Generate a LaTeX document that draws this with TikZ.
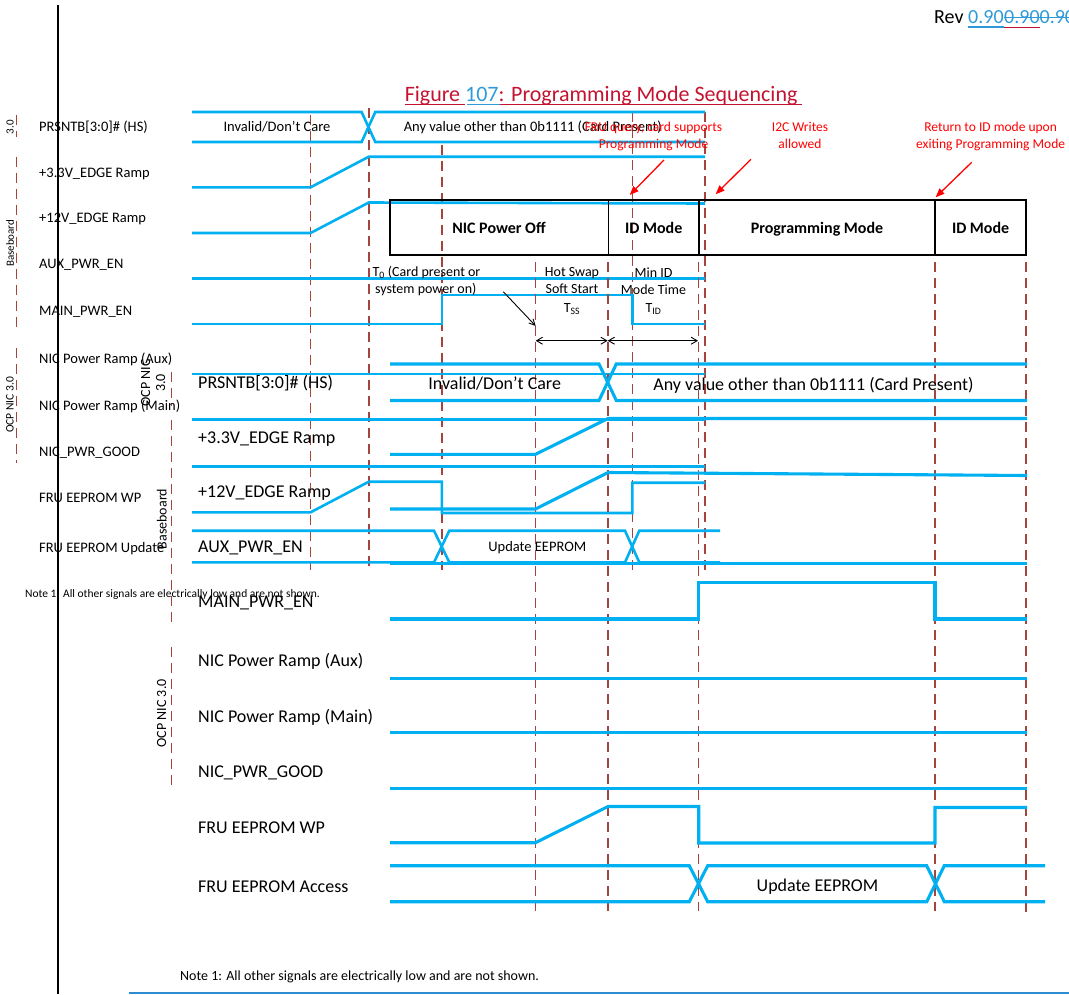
\documentclass[tikz,border=0pt]{standalone}
\usepackage{fontspec}
\setmainfont{Carlito}
\usetikzlibrary{arrows.meta}
\definecolor{sigblue}{RGB}{0,176,240}
\definecolor{dred}{RGB}{165,68,60}
\definecolor{tred}{RGB}{196,18,48}
\definecolor{tblue}{RGB}{46,154,216}
\definecolor{ared}{RGB}{255,0,0}
\definecolor{lineblue}{RGB}{46,140,210}
\begin{document}
\begin{tikzpicture}[x=1pt,y=-1pt,
  sigA/.style={draw=sigblue,line width=2.6pt,line join=miter},
  sigB/.style={draw=sigblue,line width=3.1pt,line join=miter},
  dsh/.style={draw=dred,line width=1.4pt,dash pattern=on 10pt off 6pt},
  fsz/.style={font=\fontsize{#1}{#1}\selectfont},
  t/.style={inner sep=0pt,anchor=base west},
  tc/.style={inner sep=0pt,anchor=base},
  rot/.style={inner sep=0pt,rotate=90,anchor=center},
  redarr/.style={draw=ared,line width=1.3pt,-{Triangle[length=9pt,width=7pt]}},
  blk/.style={draw=black,line width=0.9pt},
  modebox/.style={draw=black,line width=1.8pt}]
\useasboundingbox (0,0) rectangle (1069,994);

% ---------- page frame ----------
\coordinate (vtop) at (58.3,5);
\coordinate (vbot) at (58.3,994);
\draw[black,line width=2pt] (vtop) -- (vbot);
\coordinate (hl) at (129.3,992.7);
\coordinate (hr) at (1069,992.7);
\draw[lineblue,line width=2pt] (hl) -- (hr);

% ---------- revision ----------
\node[t,fsz=20] (rev) at (934,23.7) {Rev};
\node[t,fsz=20,text=tblue] (revA) at (968,23.7) {0.90};
\node[t,fsz=20,text=tblue] (revB) at (1004,23.7) {0.900.900.80};
\draw[tblue,line width=1.4pt] (968,27) -- (1004,27);
\draw[tred,line width=1.4pt] (1004,27.5) -- (1040,27.5);
\draw[tblue,line width=1.1pt] (1004,17.5) -- (1069,17.5);

% ---------- title ----------
\node[t,fsz=22] (title) at (404.6,101.3) {{\color{tred}Figure }{\color{tblue}107}{\color{tred}: Programming Mode Sequencing}};
\draw[tred,line width=1.5pt] (404.6,104.6) -- (465,104.6);
\draw[tblue,line width=1.5pt] (466.6,104.6) -- (500,104.6);
\draw[tred,line width=1.5pt] (500,104.6) -- (801.6,104.6);

% ================= small (old) diagram =================
% group markers
\draw[dsh] (16.7,115) -- (16.7,136.7);
\draw[dsh] (16.7,156.7) -- (16.7,326.7);
\draw[dsh] (16.7,348.3) -- (16.7,463.3);
\node[rot,fsz=11] (sg1) at (10,127.3) {3.0};
\node[rot,fsz=11] (sg2) at (10,243.3) {Baseboard};
\node[rot,fsz=11.5] (sg3) at (10,405) {OCP NIC 3.0};

% time markers
\draw[dsh] (310.6,115) -- (310.6,570);
\draw[dsh] (368.8,108) -- (368.8,570);
\draw[dsh] (441.8,145) -- (441.8,570);
\draw[dsh] (632.3,112) -- (632.3,570);
\draw[dsh] (705,112) -- (705,570);

% labels
\node[t,fsz=14.5] (sa1) at (39,131.9) {PRSNTB[3:0]\# (HS)};
\node[t,fsz=14.5] (sa2) at (39,177.3) {+3.3V\_EDGE Ramp};
\node[t,fsz=14.5] (sa3) at (39,222.9) {+12V\_EDGE Ramp};
\node[t,fsz=14.5] (sa4) at (39,268.6) {AUX\_PWR\_EN};
\node[t,fsz=14.5] (sa5) at (39,315.3) {MAIN\_PWR\_EN};
\node[t,fsz=14.5] (sa6) at (39,363.9) {NIC Power Ramp (Aux)};
\node[t,fsz=14.5] (sa7) at (39,410.6) {NIC Power Ramp (Main)};
\node[t,fsz=14.5] (sa8) at (39,456.3) {NIC\_PWR\_GOOD};
\node[t,fsz=14.5] (sa9) at (39,502.9) {FRU EEPROM WP};
\node[t,fsz=14.5] (sa10) at (39,552.9) {FRU EEPROM Update};

% signals
\draw[sigA] (192,112) -- (361.6,112) -- (375.3,142) -- (705,142);
\draw[sigA] (192,142) -- (361.6,142) -- (375.3,112) -- (705,112);
\node[tc,fsz=14.5] (sb1) at (277,131.6) {Invalid/Don’t Care};
\node[t,fsz=14.5] (sb2) at (403.6,131.6) {Any value other than 0b1111 (Card Present)};
\draw[sigA] (192,187.3) -- (310.6,187.3) -- (368.8,156.7) -- (705,156.7);
\draw[sigA] (192,233) -- (310.6,233) -- (368.8,202.5) -- (705,203.5);
\draw[sigA] (192,278.3) -- (705,278.3);
\draw[sigA] (192,324) -- (441.8,324) -- (441.8,295) -- (632.3,295) -- (632.3,324) -- (705,324);
\draw[sigA] (192,374) -- (705,374);
\draw[sigA] (192,419.3) -- (705,419.3);
\draw[sigA] (192,466.7) -- (705,466.7);
\draw[sigA] (192,512.3) -- (310.6,512.3) -- (368.8,481.7) -- (441.8,481.7) -- (441.8,513) -- (632.3,513) -- (632.3,482.7) -- (705,482.7);
\draw[sigA] (192,530.7) -- (434,530.7) -- (449.3,562.3) -- (625,562.3) -- (639.3,530.7) -- (720,530.7);
\draw[sigA] (192,562.3) -- (434,562.3) -- (449.3,530.7) -- (625,530.7) -- (639.3,562.3) -- (720,562.3);
\node[tc,fsz=14.5] (sb3) at (537.3,551.3) {Update EEPROM};

\node[t,fsz=11.5] (snote) at (25,597) {Note 1: All other signals are electrically low and are not shown.};

% ================= large (new) diagram =================
% mode box
\draw[modebox] (389.8,200) rectangle (1025.7,255);
\draw[modebox] (608.4,200) -- (608.4,255);
\draw[modebox] (699,200) -- (699,255);
\draw[modebox] (935,200) -- (935,255);
\node[tc,fsz=16,font=\fontsize{16}{16}\selectfont\bfseries] (m1) at (499,233.1) {NIC Power Off};
\node[tc,font=\fontsize{16}{16}\selectfont\bfseries] (m2) at (653.7,233.1) {ID Mode};
\node[tc,font=\fontsize{16}{16}\selectfont\bfseries] (m3) at (817,233.1) {Programming Mode};
\node[tc,font=\fontsize{16}{16}\selectfont\bfseries] (m4) at (980.6,233.1) {ID Mode};

% red annotations
\node[tc,fsz=13.5,text=ared] (r1a) at (653.5,131) {FRU query, card supports};
\node[tc,fsz=13.5,text=ared] (r1b) at (653.5,148.3) {Programming Mode};
\node[tc,fsz=13.5,text=ared] (r2a) at (800,131) {I2C Writes};
\node[tc,fsz=13.5,text=ared] (r2b) at (800,148.3) {allowed};
\node[tc,fsz=13.5,text=ared] (r3a) at (990.6,131) {Return to ID mode upon};
\node[tc,fsz=13.5,text=ared] (r3b) at (990.6,148.3) {exiting Programming Mode};
\coordinate (a1s) at (664,160);   \coordinate (a1e) at (629.7,195);
\coordinate (a2s) at (751,159.3); \coordinate (a2e) at (715.6,194.3);
\coordinate (a3s) at (971.7,162.3); \coordinate (a3e) at (935.6,197.3);
\draw[redarr] (a1s) -- (a1e);
\draw[redarr] (a2s) -- (a2e);
\draw[redarr] (a3s) -- (a3e);

% timing annotations
\node[t,fsz=14] (t0a) at (372.3,276.8) {T\textsubscript{0} (Card present or};
\node[t,fsz=14] (t0b) at (375,293.5) {system power on)};
\node[tc,fsz=14] (hs1) at (572,276.2) {Hot Swap};
\node[tc,fsz=14] (hs2) at (572,293.2) {Soft Start};
\node[tc,fsz=14] (hs3) at (572,312.8) {T\textsubscript{SS}};
\node[tc,fsz=14] (id1) at (653.5,277.2) {Min ID};
\node[tc,fsz=14] (id2) at (653.5,294.5) {Mode Time};
\node[tc,fsz=14] (id3) at (653.5,312.5) {T\textsubscript{ID}};
\coordinate (ba1) at (503.3,291.7); \coordinate (ba2) at (535.7,326);
\draw[blk,-{Straight Barb[length=6pt,width=6pt]}] (ba1) -- (ba2);
\coordinate (d1) at (535.7,340.7); \coordinate (d2) at (607.7,340.7); \coordinate (d3) at (698,340.7);
\draw[blk,{Straight Barb[length=6pt,width=7pt]}-{Straight Barb[length=6pt,width=7pt]}] (d1) -- (d2);
\draw[blk,{Straight Barb[length=6pt,width=7pt]}-{Straight Barb[length=6pt,width=7pt]}] (d2) -- (d3);

% group markers
\draw[dsh] (171.5,371.7) -- (171.5,406);
\draw[dsh] (171.5,420) -- (171.5,621.7);
\draw[dsh] (171.5,646.7) -- (171.5,785);
\node[rot,font=\fontsize{14}{15}\selectfont,align=center] (lg1) at (153.2,383) {OCP NIC\\3.0};
\node[rot,fsz=14] (lg2) at (161.7,519) {Baseboard};
\node[rot,fsz=14] (lg3) at (161.7,713.3) {OCP NIC 3.0};

% time markers
\draw[dsh] (535.5,262) -- (535.5,911);
\draw[dsh] (608,262) -- (608,911);
\draw[dsh] (698.5,262) -- (698.5,911);
\draw[dsh] (935,262) -- (935,911);
\draw[dsh] (1026,262) -- (1026,912);

% labels
\node[t,fsz=18] (la1) at (198,388.1) {PRSNTB[3:0]\# (HS)};
\node[t,fsz=18] (la2) at (198,443.1) {+3.3V\_EDGE Ramp};
\node[t,fsz=18] (la3) at (198,497.5) {+12V\_EDGE Ramp};
\node[t,fsz=18] (la4) at (198,552.5) {AUX\_PWR\_EN};
\node[t,fsz=18] (la5) at (198,607.5) {MAIN\_PWR\_EN};
\node[t,fsz=18] (la6) at (198,666.5) {NIC Power Ramp (Aux)};
\node[t,fsz=18] (la7) at (198,722.5) {NIC Power Ramp (Main)};
\node[t,fsz=18] (la8) at (198,777.5) {NIC\_PWR\_GOOD};
\node[t,fsz=18] (la9) at (198,833.1) {FRU EEPROM WP};
\node[t,fsz=18] (la10) at (198,892.5) {FRU EEPROM Access};

% signals
\draw[sigB] (390,364) -- (599,364) -- (616.3,400.5) -- (1027,400.5);
\draw[sigB] (390,400.5) -- (599,400.5) -- (616.3,364) -- (1027,364);
\node[tc,fsz=18] (lb1) at (494.7,389.1) {Invalid/Don’t Care};
\node[tc,fsz=18] (lb2) at (813.5,390.1) {Any value other than 0b1111 (Card Present)};
\draw[sigB] (390,454.3) -- (535.5,454.3) -- (608,418.5) -- (1027,418.5);
\draw[sigB] (390,509) -- (535.5,509) -- (608,472.5) -- (1027,475.5);
\draw[sigB] (390,563.5) -- (1027,563.5);
\draw[sigB] (390,619) -- (698.7,619) -- (698.7,582.5) -- (935,582.5) -- (935,619) -- (1027,619);
\draw[sigB] (390,678.3) -- (1027,678.3);
\draw[sigB] (390,732.3) -- (1027,732.3);
\draw[sigB] (390,788.3) -- (1027,788.3);
\draw[sigB] (390,842.7) -- (535.5,842.7) -- (608,806.5) -- (698.7,806.5) -- (698.7,843) -- (935,843) -- (935,807.5) -- (1027,807.5);
\draw[sigB] (390,865.7) -- (689.3,865.7) -- (707.7,901.7) -- (926.7,901.7) -- (944.3,865.7) -- (1045,865.7);
\draw[sigB] (390,901.7) -- (689.3,901.7) -- (707.7,865.7) -- (926.7,865.7) -- (944.3,901.7) -- (1045,901.7);
\node[tc,fsz=18] (lb3) at (817.5,891.5) {Update EEPROM};

\node[t,fsz=14] (lnote) at (180,980.2) {Note 1: All other signals are electrically low and are not shown.};
\end{tikzpicture}
\end{document}
